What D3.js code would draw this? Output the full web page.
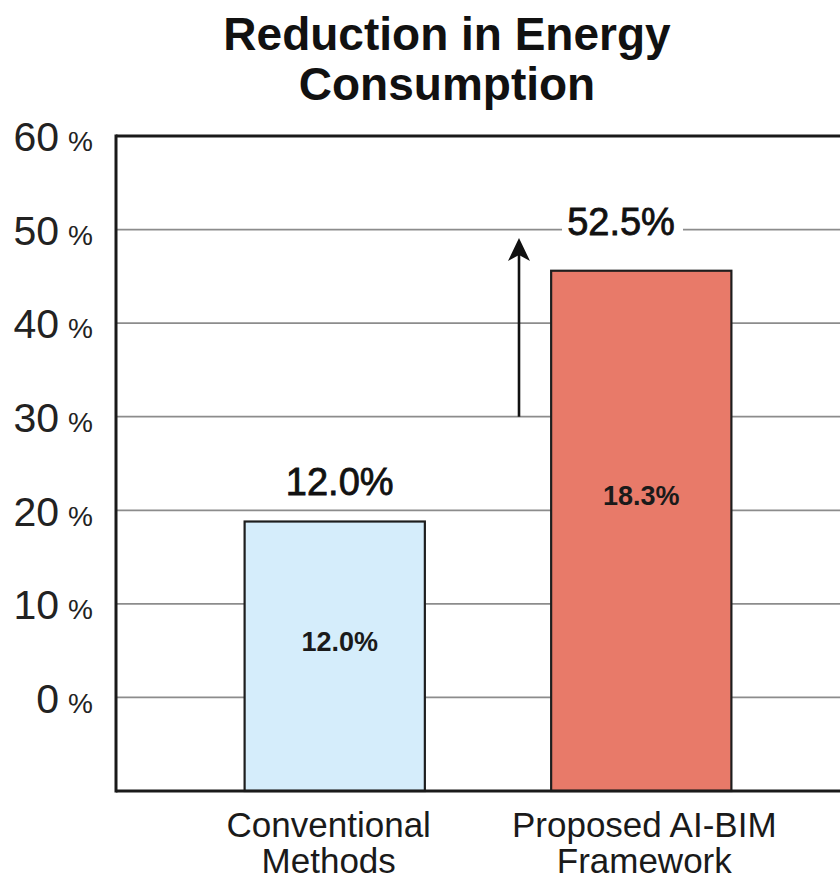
<!DOCTYPE html>
<html>
<head>
<meta charset="utf-8">
<script src="https://cdn.jsdelivr.net/npm/d3@7"></script>
<style>
  html, body { margin: 0; padding: 0; background: #fff; }
  text { font-family: "Liberation Sans", Arial, sans-serif; }
</style>
</head>
<body>
<svg id="chart" width="840" height="882"></svg>
<script>
// Chart data
const categories = ["Conventional Methods", "Proposed AI-BIM Framework"];
const categoryLines = [["Conventional", "Methods"], ["Proposed AI-BIM", "Framework"]];
const barValues = [18.8, 45.6];          // bar tops on the percent axis
const insideLabels = ["12.0%", "18.3%"];
const insideLabelPos = [6.0, 21.6];      // where the inner labels sit (axis value)
const topLabels = ["12.0%", "52.5%"];
const yTicks = [0, 10, 20, 30, 40, 50, 60];
const arrowFrom = 30;   // arrow start (axis value)
const arrowTo = 49.1;   // arrow tip (axis value)

const svg = d3.select("#chart");
const W = 840;
const plotLeft = 116;

const y = d3.scaleLinear().domain([-10, 60]).range([791, 136]);
const x = d3.scaleBand().domain(categories).range([122, 854]).paddingInner(0.412).paddingOuter(0.4);
const cx = i => x(categories[i]) + x.bandwidth() / 2;

// Title
svg.append("text")
  .attr("text-anchor", "middle")
  .attr("font-weight", "bold").attr("font-size", 46).attr("fill", "#111")
  .selectAll("tspan").data(["Reduction in Energy", "Consumption"]).join("tspan")
  .attr("x", 447).attr("y", (d, i) => 50 + i * 50).text(d => d);

// Gridlines
svg.append("g").selectAll("line").data(yTicks.filter(t => t < 60)).join("line")
  .attr("x1", plotLeft).attr("x2", W)
  .attr("y1", d => y(d)).attr("y2", d => y(d))
  .attr("stroke", "#8c8c8c").attr("stroke-width", 1.7);

// Y axis labels (number + smaller percent sign)
const yAxis = d3.axisLeft(y).tickValues(yTicks).tickSize(0).tickPadding(0);
const gy = svg.append("g").attr("transform", `translate(${plotLeft},0)`).call(yAxis);
gy.select(".domain").remove();
gy.selectAll(".tick text").each(function(d) {
  const t = d3.select(this);
  t.text(null).attr("x", -23).attr("dy", "0.36em").attr("fill", "#222")
    .attr("text-anchor", "end").attr("font-size", 41);
  t.append("tspan").text(d);
  t.append("tspan").attr("font-size", 28).attr("dx", 9).text("%");
});

// Bars
const colors = ["#d5edfb", "#e87a69"];
svg.append("g").selectAll("rect").data(barValues).join("rect")
  .attr("x", (d, i) => x(categories[i]))
  .attr("width", x.bandwidth())
  .attr("y", d => y(d))
  .attr("height", d => y(-10) - y(d))
  .attr("fill", (d, i) => colors[i])
  .attr("stroke", "#1e1e1e").attr("stroke-width", 2.2);

// Labels inside bars
svg.append("g").selectAll("text").data(insideLabels).join("text")
  .attr("x", (d, i) => cx(i) + (i === 0 ? 5 : 0))
  .attr("y", (d, i) => y(insideLabelPos[i]))
  .attr("text-anchor", "middle").attr("dy", "0.36em")
  .attr("font-weight", "bold").attr("font-size", 27).attr("fill", "#1a1a1a")
  .text(d => d);

// Value label above the conventional bar
svg.append("text")
  .attr("x", cx(0) + 5)
  .attr("y", 495)
  .attr("text-anchor", "middle")
  .attr("font-size", 38).attr("fill", "#111")
  .attr("stroke", "#111").attr("stroke-width", 0.8)
  .text(topLabels[0]);

// Improvement label on the 50% line, white backing breaks the gridline
const lx = 621;
svg.append("rect").attr("x", 562).attr("y", y(50) - 16).attr("width", 121).attr("height", 32).attr("fill", "#fff");
svg.append("text")
  .attr("x", lx).attr("y", 235)
  .attr("text-anchor", "middle")
  .attr("font-size", 38).attr("fill", "#111")
  .attr("stroke", "#111").attr("stroke-width", 0.8)
  .text(topLabels[1]);

// Arrow
const ax = 519, ty = y(arrowTo);
svg.append("line")
  .attr("x1", ax).attr("x2", ax)
  .attr("y1", y(arrowFrom)).attr("y2", ty + 12)
  .attr("stroke", "#111").attr("stroke-width", 2.6);
svg.append("path")
  .attr("d", `M${ax},${ty} L${ax - 11},${ty + 23} L${ax},${ty + 17} L${ax + 11},${ty + 23} Z`)
  .attr("fill", "#111");

// Frame: top, left and bottom lines
svg.append("line").attr("x1", plotLeft).attr("x2", W).attr("y1", y(60)).attr("y2", y(60))
  .attr("stroke", "#1a1a1a").attr("stroke-width", 3);
svg.append("line").attr("x1", plotLeft).attr("x2", W).attr("y1", y(-10)).attr("y2", y(-10))
  .attr("stroke", "#1a1a1a").attr("stroke-width", 3);
svg.append("line").attr("x1", plotLeft).attr("x2", plotLeft).attr("y1", y(60) - 1.5).attr("y2", y(-10) + 1.5)
  .attr("stroke", "#1a1a1a").attr("stroke-width", 3);

// Category labels
svg.append("g").selectAll("text").data(categoryLines).join("text")
  .attr("text-anchor", "middle").attr("font-size", 35).attr("fill", "#1a1a1a")
  .each(function(lines, i) {
    const px = cx(i) + (i === 0 ? -6 : 3);
    d3.select(this).selectAll("tspan").data(lines).join("tspan")
      .attr("x", px).attr("y", (d, j) => 837 + j * 36).text(d => d);
  });
</script>
</body>
</html>
